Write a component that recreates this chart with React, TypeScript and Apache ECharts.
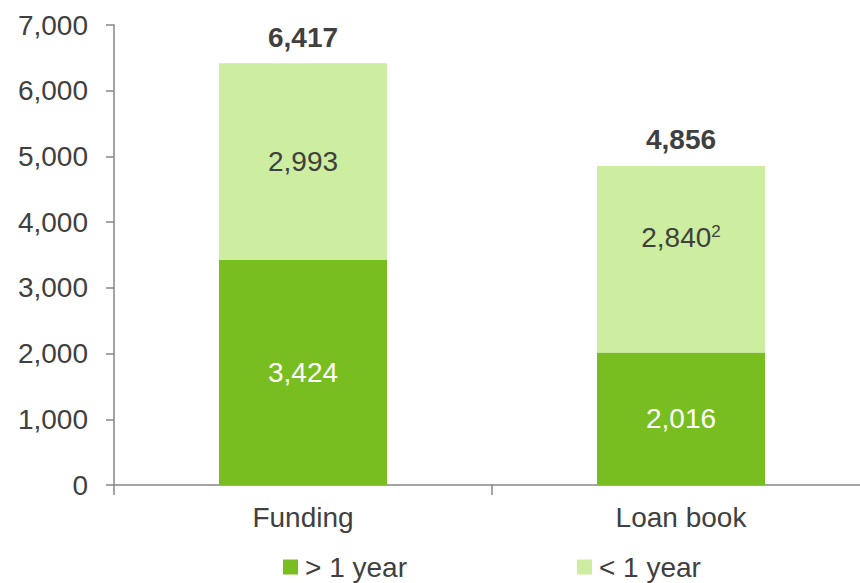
import React, { useEffect, useRef } from "react";
import * as echarts from "echarts";

const categories = ["Funding", "Loan book"];
const overOneYear = [3424, 2016];
const underOneYear = [2993, 2840];
const totals = [6417, 4856];
const underLabels = ["2,993", "2,840{sup|2}"];
const yTicks = { min: 0, max: 7000, interval: 1000 };

const DARK = "#78BE20";
const LIGHT = "#CDEDA0";
const TEXT = "#404040";
const AXIS = "#868686";
const FONT = "'Liberation Sans', Arial, sans-serif";

const fmt = (v: number) => v.toLocaleString("en-US");

export default function App() {
  const ref = useRef<HTMLDivElement>(null);
  useEffect(() => {
    if (!ref.current) return;
    const chart = echarts.init(ref.current, null, { renderer: "svg" });
    chart.setOption({
      animation: false,
      textStyle: { fontFamily: FONT },
      grid: { left: 114, top: 25, height: 460, width: 756, containLabel: false, outerBoundsMode: "none" },
      legend: {
        left: 278,
        top: 548,
        itemWidth: 15,
        itemHeight: 15,
        itemGap: 170,
        icon: "rect",
        textStyle: { fontSize: 28, color: TEXT, fontFamily: FONT, padding: [0, 0, 0, 2] },
        data: ["> 1 year", "< 1 year"],
      },
      xAxis: {
        type: "category",
        data: categories,
        axisLine: { lineStyle: { color: AXIS, width: 1.5 } },
        axisTick: { show: true, length: 10, lineStyle: { color: AXIS, width: 1.5 } },
        axisLabel: { fontSize: 28, color: TEXT, margin: 18, fontFamily: FONT },
      },
      yAxis: {
        type: "value",
        min: yTicks.min,
        max: yTicks.max,
        interval: yTicks.interval,
        splitLine: { show: false },
        axisLine: { show: true, lineStyle: { color: AXIS, width: 1.5 } },
        axisTick: { show: true, length: 8, lineStyle: { color: AXIS, width: 1.5 } },
        axisLabel: { fontSize: 28, color: TEXT, margin: 26, fontFamily: FONT, formatter: (v: number) => fmt(v) },
      },
      series: [
        {
          name: "> 1 year",
          type: "bar",
          stack: "total",
          barWidth: 168,
          itemStyle: { color: DARK },
          data: overOneYear,
          label: {
            show: true,
            position: "inside",
            fontSize: 28,
            color: "#FFFFFF",
            fontFamily: FONT,
            formatter: (p: any) => fmt(p.value),
          },
        },
        {
          name: "< 1 year",
          type: "bar",
          stack: "total",
          itemStyle: { color: LIGHT },
          data: underOneYear.map((v, i) => ({
            value: v,
            label: i === 1 ? { offset: [0, -22] } : {},
          })),
          label: {
            show: true,
            position: "inside",
            fontSize: 28,
            color: TEXT,
            fontFamily: FONT,
            formatter: (p: any) => underLabels[p.dataIndex],
            rich: {
              sup: { fontSize: 17, color: TEXT, fontFamily: FONT, verticalAlign: "top", padding: [0, 0, 12, 0] },
            },
          },
        },
        {
          name: "total",
          type: "bar",
          stack: "total",
          data: totals.map(() => 0),
          itemStyle: { color: "transparent" },
          label: {
            show: true,
            position: "top",
            distance: 12,
            fontSize: 28,
            fontWeight: "bold",
            color: TEXT,
            fontFamily: FONT,
            formatter: (p: any) => fmt(totals[p.dataIndex]),
          },
        },
      ],
    });
    return () => chart.dispose();
  }, []);
  return (
    <div
      ref={ref}
      style={{ position: "absolute", left: 0, top: 0, width: 860, height: 583 }}
    />
  );
}
